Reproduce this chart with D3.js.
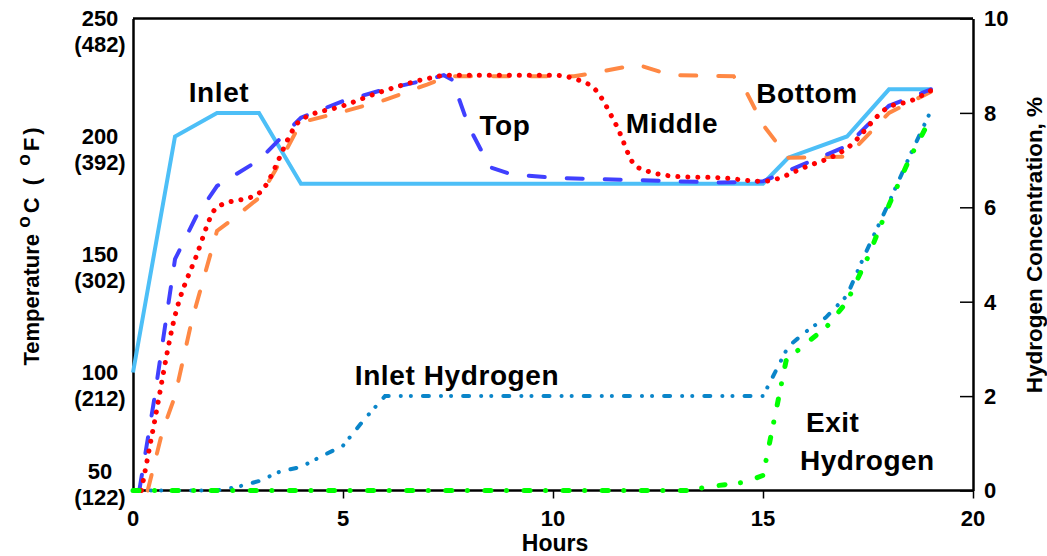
<!DOCTYPE html>
<html>
<head>
<meta charset="utf-8">
<script src="https://cdn.jsdelivr.net/npm/d3@7/dist/d3.min.js"></script>
<style>
  html, body { margin: 0; padding: 0; background: #fff; }
  svg { display: block; }
  text { font-family: "Liberation Sans", Arial, sans-serif; font-weight: bold; fill: #000; }
</style>
</head>
<body>
<svg id="chart" width="1047" height="556"></svg>
<script>
// ---- axis ticks ----
const hourTicks = [0, 5, 10, 15, 20];
const tempTicks = [50, 100, 150, 200, 250];
const tempTicksF = ["(122)", "(212)", "(302)", "(392)", "(482)"];
const h2Ticks = [0, 2, 4, 6, 8, 10];

// ---- temperature series (°C) ----
const inletHours = [0, 1, 2, 3, 4, 15, 15.6, 17, 18, 19];
const inletTemp  = [100, 200, 210, 210, 180, 180, 191, 200, 220, 220];

const topHours = [0.15, 0.5, 1, 1.5, 2, 3, 4, 5, 6, 7, 7.4, 7.6, 8, 8.5, 9, 10, 11, 12, 13, 14, 15, 16, 17, 17.5, 18, 19];
const topTemp  = [50, 88, 148, 166, 179, 190, 208, 215, 220, 224, 226, 224, 204, 187, 184, 182.5, 182, 181.5, 181, 180.5, 181, 188.5, 196, 205, 213, 220];

const middleHours = [0.2, 0.5, 1, 1.5, 2, 3, 4, 5, 6, 7, 7.5, 8, 9, 10, 10.5, 11, 11.5, 12, 13, 14, 15, 16, 17, 18, 18.5, 19];
const middleTemp  = [50, 78, 124, 149, 170, 176, 207, 213, 219.5, 224.5, 226, 226, 226, 226, 224.5, 220, 205, 187, 183, 182.5, 181, 187, 195, 212.5, 215, 219.5];

const bottomHours = [0.35, 0.7, 1, 1.4, 2, 2.3, 3, 3.4, 4, 5, 6, 7, 7.5, 10.5, 11, 12, 12.8, 14.3, 14.6, 15, 15.6, 17, 18, 19];
const bottomTemp  = [50, 75, 90, 122, 160, 164, 174, 186, 206, 210.5, 215.5, 222, 225.5, 225.5, 227, 230.5, 226, 225.5, 219, 205, 191, 191.5, 210, 219];

// ---- hydrogen series (%) ----
const inletH2Hours = [0, 2, 2.5, 3, 3.5, 4, 4.5, 5, 5.5, 6, 15, 15.6, 16, 16.5, 17, 17.4, 18, 18.5, 19];
const inletH2      = [0, 0, 0.08, 0.2, 0.4, 0.5, 0.73, 0.95, 1.5, 2.0, 2.0, 3.05, 3.35, 3.67, 4.13, 4.95, 6.1, 7.1, 8.05];

const exitH2Hours = [0, 13.2, 13.7, 14.6, 15, 15.55, 16, 16.5, 17, 17.5, 18, 18.5, 19];
const exitH2      = [0, 0, 0.08, 0.18, 0.32, 2.75, 3.1, 3.45, 4.0, 4.95, 6.05, 7.05, 7.9];

// ---- labels inside the plot ----
const seriesLabels = ["Inlet", "Top", "Middle", "Bottom", "Inlet Hydrogen"];
const exitLabelLines = ["Exit", "Hydrogen"];

// ---- layout ----
const svg = d3.select("#chart");
const plotLeft = 133, plotRight = 973, plotTop = 18.5, plotBottom = 490.5;

const x = d3.scaleLinear().domain([0, 20]).range([plotLeft, plotRight]);
const yT = d3.scaleLinear().domain([50, 250]).range([plotBottom, plotTop]);
const yH = d3.scaleLinear().domain([0, 10]).range([plotBottom, plotTop]);

const zip = (xs, ys) => xs.map((h, i) => [h, ys[i]]);

// top border
svg.append("line")
  .attr("x1", plotLeft).attr("x2", plotRight).attr("y1", plotTop).attr("y2", plotTop)
  .attr("stroke", "#000").attr("stroke-width", 2.5);

// bottom axis: outward ticks at 5..20
const xAxis = d3.axisBottom(x).tickValues(hourTicks.filter(d => d > 0)).tickSizeInner(8).tickSizeOuter(0).tickFormat("");
const gx = svg.append("g").attr("transform", `translate(0,${plotBottom})`).call(xAxis);
gx.select(".domain").attr("stroke-width", 2.5).attr("d", `M${plotLeft},0H${plotRight}`);
gx.selectAll(".tick line").attr("stroke-width", 1.5);

// left axis line (no ticks)
const yAxisL = d3.axisLeft(yT).tickValues([]).tickSizeOuter(0);
const gl = svg.append("g").attr("transform", `translate(${plotLeft},0)`).call(yAxisL);
gl.select(".domain").attr("stroke-width", 2.5);

// right axis: inward ticks
const yAxisR = d3.axisRight(yH).tickValues(h2Ticks).tickSizeInner(-13).tickSizeOuter(0).tickFormat("");
const gr = svg.append("g").attr("transform", `translate(${plotRight},0)`).call(yAxisR);
gr.select(".domain").attr("stroke-width", 2.5);
gr.selectAll(".tick line").attr("stroke-width", 1.5);

// tick labels
svg.append("g").selectAll("text").data(hourTicks).join("text")
  .attr("x", d => x(d)).attr("y", 526)
  .attr("text-anchor", "middle").attr("font-size", 22)
  .text(d => d);

svg.append("text").attr("x", 555).attr("y", 551)
  .attr("text-anchor", "middle").attr("font-size", 23).text("Hours");

svg.append("g").selectAll("text").data(h2Ticks).join("text")
  .attr("x", plotRight + 11).attr("y", d => yH(d)).attr("dy", "0.36em")
  .attr("font-size", 22)
  .text(d => d);

const tl = svg.append("g").selectAll("g").data(tempTicks).join("g")
  .attr("transform", (d, i) => `translate(100,${yT(d) - (i === 0 ? 19 : 0)})`);
tl.append("text").attr("text-anchor", "middle").attr("dy", "0.36em").attr("font-size", 22).text(d => d);
tl.append("text").attr("text-anchor", "middle").attr("y", 26).attr("dy", "0.36em").attr("font-size", 22)
  .text((d, i) => tempTicksF[i]);

// axis titles
const tTitle = svg.append("text").attr("transform", "translate(39,245) rotate(-90)")
  .attr("text-anchor", "middle").attr("font-size", 22);
tTitle.append("tspan").text("Temperature ");
tTitle.append("tspan").attr("dy", -9).attr("font-size", 19).attr("letter-spacing", 3).text("o");
tTitle.append("tspan").attr("dy", 9).attr("letter-spacing", 3).text("C ( ");
tTitle.append("tspan").attr("dy", -9).attr("font-size", 19).attr("letter-spacing", 3).text("o");
tTitle.append("tspan").attr("dy", 9).attr("letter-spacing", 3).text("F)");

svg.append("text").attr("transform", "translate(1042,245) rotate(-90)")
  .attr("text-anchor", "middle").attr("font-size", 22.5).text("Hydrogen Concentration, %");

// series lines
const lineT = d3.line().x(d => x(d[0])).y(d => yT(d[1]));
const lineTSmooth = d3.line().x(d => x(d[0])).y(d => yT(d[1])).curve(d3.curveMonotoneX);
const lineH = d3.line().x(d => x(d[0])).y(d => yH(d[1]));

const series = [
  { data: zip(inletHours, inletTemp),   gen: lineT,       color: "#4DBFF7", width: 4, dash: null },
  { data: zip(bottomHours, bottomTemp), gen: lineT,       color: "#FF8844", width: 4, dash: "16,22" },
  { data: zip(topHours, topTemp),       gen: lineT,       color: "#4040FF", width: 4, dash: "16,22" },
  { data: zip(middleHours, middleTemp), gen: lineTSmooth, color: "#FF0000", width: 5, dash: "0.1,9.9" },
  { data: zip(inletH2Hours, inletH2),   gen: lineH,       color: "#0A85C9", width: 4, dash: "6,12,0.1,10,0.1,12" },
  { data: zip(exitH2Hours, exitH2),     gen: lineH,       color: "#00FF00", width: 5, dash: "6,15.5,0.1,17.5" }
];

svg.append("g").selectAll("path").data(series).join("path")
  .attr("d", s => s.gen(s.data))
  .attr("fill", "none")
  .attr("stroke", s => s.color)
  .attr("stroke-width", s => s.width)
  .attr("stroke-linejoin", "miter")
  .attr("stroke-linecap", s => s.dash ? "round" : "butt")
  .attr("stroke-dasharray", s => s.dash);

// series labels
const labelPos = [[219, 102], [505, 135], [672, 133], [807, 103], [457, 385]];
svg.append("g").selectAll("text").data(seriesLabels).join("text")
  .attr("x", (d, i) => labelPos[i][0]).attr("y", (d, i) => labelPos[i][1])
  .attr("text-anchor", "middle").attr("font-size", 28).attr("letter-spacing", 0.6)
  .text(d => d);

svg.append("g").selectAll("text").data(exitLabelLines).join("text")
  .attr("x", (d, i) => i === 0 ? 806 : 800).attr("y", (d, i) => i === 0 ? 432 : 470)
  .attr("font-size", 28).attr("letter-spacing", 0.5)
  .text(d => d);
</script>
</body>
</html>
